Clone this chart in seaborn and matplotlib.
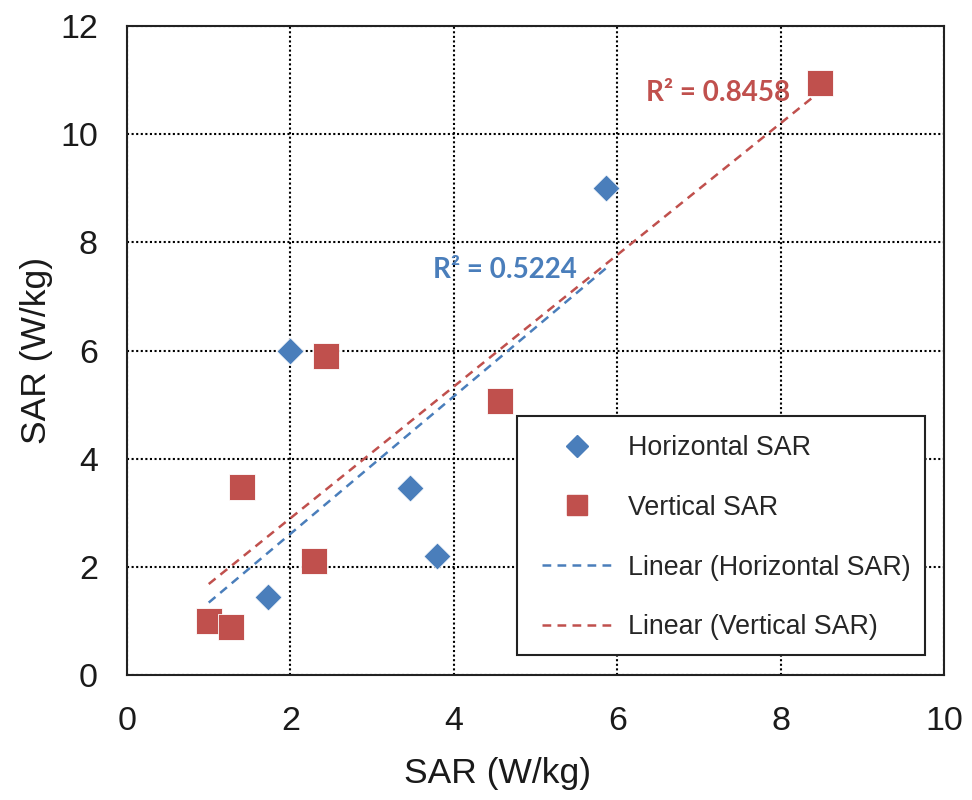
import numpy as np
import pandas as pd
import matplotlib
matplotlib.use("Agg")
import matplotlib.pyplot as plt
import seaborn as sns
from matplotlib.lines import Line2D
from matplotlib.patches import Rectangle

# Data
h_x = [1.0, 1.73, 2.0, 3.46, 3.79, 5.86]
h_y = [1.0, 1.44, 6.0, 3.46, 2.2, 9.0]
v_x = [1.0, 1.27, 1.41, 2.29, 2.44, 4.57, 8.48]
v_y = [1.0, 0.9, 3.47, 2.12, 5.9, 5.06, 10.94]
r2_labels = ["R\u00b2 = 0.5224", "R\u00b2 = 0.8458"]
x_ticks = [0, 2, 4, 6, 8, 10]
y_ticks = [0, 2, 4, 6, 8, 10, 12]

BLUE = "#4A7EBB"
RED = "#C0504D"

sns.set_style("white")
plt.rcParams['font.family'] = ['Liberation Sans', 'DejaVu Sans']

fig = plt.figure(figsize=(9.72, 8.0), dpi=100)
ax = fig.add_axes([0.1307, 0.156, 0.8405, 0.8115])

dfh = pd.DataFrame({"x": h_x, "y": h_y})
dfv = pd.DataFrame({"x": v_x, "y": v_y})

# trend lines
sns.regplot(data=dfh, x="x", y="y", scatter=False, ci=None, truncate=True, ax=ax,
            line_kws=dict(color=BLUE, lw=1.8, ls=(0, (3.5, 2.5)), zorder=3))
sns.regplot(data=dfv, x="x", y="y", scatter=False, ci=None, truncate=True, ax=ax,
            line_kws=dict(color=RED, lw=1.8, ls=(0, (3.5, 2.5)), zorder=3))

sns.scatterplot(data=dfh, x="x", y="y", marker="D", s=190, color=BLUE,
                edgecolor="white", linewidth=0.6, ax=ax, zorder=4)
sns.scatterplot(data=dfv, x="x", y="y", marker="s", s=330, color=RED,
                edgecolor="white", linewidth=0.6, ax=ax, zorder=5)

ax.set_xlim(0, 10)
ax.set_ylim(0, 12)
ax.set_xticks(x_ticks)
ax.set_yticks(y_ticks)
ax.set_xticklabels([str(t) for t in x_ticks])
ax.set_yticklabels([str(t) for t in y_ticks])
ax.tick_params(axis="both", labelsize=24.5, length=0, colors="#1a1a1a")
ax.tick_params(axis="y", pad=21)
ax.tick_params(axis="x", pad=22)
ax.grid(True, color="black", ls=(0, (1, 1.2)), lw=1.5)
for s in ax.spines.values():
    s.set_color("#222222")
    s.set_linewidth(1.5)
    s.set_visible(True)

ax.set_xlabel("SAR (W/kg)", fontsize=25.5, color="#1a1a1a", va="center")
ax.set_ylabel("SAR (W/kg)", fontsize=25.5, color="#1a1a1a", va="center")
ax.xaxis.set_label_coords(0.453, -0.151)
ax.yaxis.set_label_coords(-0.111, 0.5)

ax.text(3.75, 7.49, r2_labels[0], color=BLUE, fontsize=20, fontweight="bold",
        family=["Lato", "DejaVu Sans"], va="center", ha="left", zorder=6)
ax.text(6.35, 10.76, r2_labels[1], color=RED, fontsize=20, fontweight="bold",
        family=["Lato", "DejaVu Sans"], va="center", ha="left", zorder=6)

# legend frame
ax.add_patch(Rectangle((0.477, 0.031), 0.5, 0.369, transform=ax.transAxes,
                       facecolor="white", edgecolor="#222222", lw=1.5, zorder=9))

handles = [
    Line2D([], [], marker="D", ls="none", color=BLUE, markersize=11),
    Line2D([], [], marker="s", ls="none", color=RED, markersize=14),
    Line2D([], [], color=BLUE, lw=1.8, ls=(0, (3.5, 2.5))),
    Line2D([], [], color=RED, lw=1.8, ls=(0, (3.5, 2.5))),
]
labels = ["Horizontal SAR", "Vertical SAR", "Linear (Horizontal SAR)", "Linear (Vertical SAR)"]
leg = ax.legend(handles, labels, loc="upper left", bbox_to_anchor=(0.508, 0.370),
                fontsize=19.3, frameon=False, borderpad=0, labelspacing=1.26,
                handlelength=2.6, handletextpad=0.6, borderaxespad=0)
leg.set_zorder(10)

fig.savefig("out.png", dpi=100)
